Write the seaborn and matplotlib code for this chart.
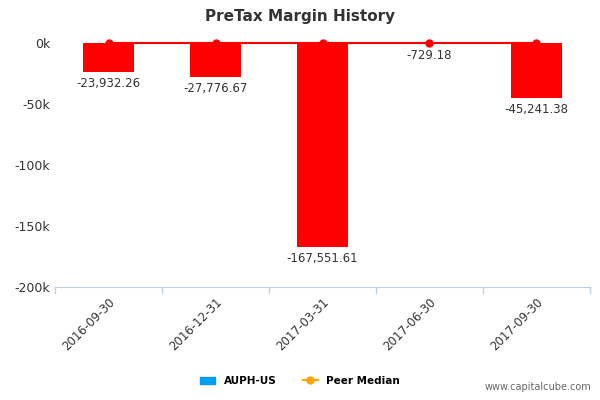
import matplotlib
matplotlib.use("Agg")
import matplotlib.pyplot as plt
import seaborn as sns
import pandas as pd
from matplotlib.lines import Line2D
from matplotlib.patches import Patch

dates = ["2016-09-30", "2016-12-31", "2017-03-31", "2017-06-30", "2017-09-30"]
values = [-23932.26, -27776.67, -167551.61, -729.18, -45241.38]
peer_median = [0, 0, 0, 0, 0]
yticks = [0, -50000, -100000, -150000, -200000]
ytick_labels = ["0k", "-50k", "-100k", "-150k", "-200k"]

df = pd.DataFrame({"date": dates, "value": values, "peer": peer_median})

fig = plt.figure(figsize=(6, 4), dpi=100)
ax = fig.add_axes([0.092, 0.2825, 0.891, 0.61])
sns.barplot(data=df, x="date", y="value", color="#ff0000", width=0.48, ax=ax, saturation=1)
ax.plot(range(len(dates)), peer_median, color="#ff0000", lw=1.5, marker="o", ms=5, clip_on=False, zorder=5)
ax.set_ylim(-200000, 0)
ax.set_xlim(-0.5, len(dates) - 0.5)
ax.set_yticks(yticks)
ax.set_yticklabels(ytick_labels, fontsize=9, color="#333333")
ax.set_xticks(range(len(dates)))
ax.set_xticklabels(dates, rotation=45, ha="right", rotation_mode="anchor", fontsize=8.5, color="#333333")
ax.set_xlabel("")
ax.set_ylabel("")
for s in ["top", "right", "left"]:
    ax.spines[s].set_visible(False)
ax.spines["bottom"].set_color("#c0d0e0")
ax.tick_params(axis="y", length=0)
ax.tick_params(axis="x", length=0, pad=6)
for b in [i + 0.5 for i in range(-1, len(dates))]:
    ax.plot([b, b], [-200000, -205000], color="#c0d0e0", lw=1, clip_on=False)
for i, v in enumerate(values):
    ax.text(i, v - 4000, f"{v:,.2f}", ha="center", va="top", fontsize=8.5, color="#333333")

fig.text(0.5, 0.96, "PreTax Margin History", ha="center", va="center", fontsize=11, fontweight="bold", color="#333333")
handles = [Patch(color="#00a0f0"),
           Line2D([0], [0], color="#ffa500", marker="o", ms=5, lw=1.5)]
fig.legend(handles, ["AUPH-US", "Peer Median"], loc="center", bbox_to_anchor=(0.5, 0.048),
           ncol=2, frameon=False, fontsize=7.5, prop={"weight": "bold", "size": 7.5},
           handlelength=1.5, columnspacing=2.5)
fig.text(0.985, 0.02, "www.capitalcube.com", ha="right", va="bottom", fontsize=7, color="#666666")
fig.savefig("out.png", dpi=100)
